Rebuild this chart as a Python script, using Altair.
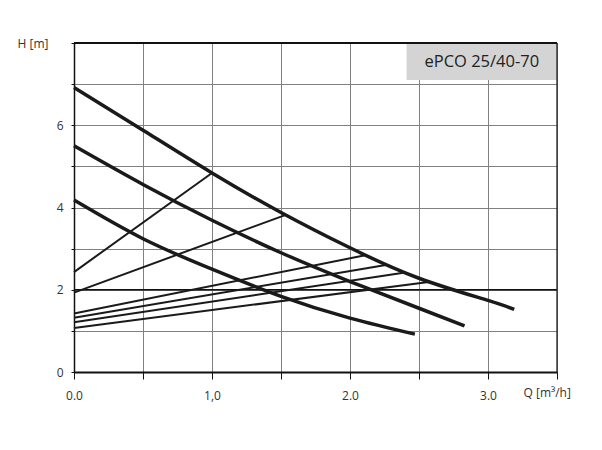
import altair as alt
import pandas as pd

# Pump curves (thick)
q_max = [0, 0.5, 1.0, 1.5, 2.0, 2.5, 3.0, 3.19]
h_max = [6.92, 5.88, 4.84, 3.88, 3.02, 2.28, 1.74, 1.52]
q_mid = [0, 0.5, 1.0, 1.5, 2.0, 2.5, 2.83]
h_mid = [5.50, 4.56, 3.69, 2.90, 2.20, 1.55, 1.12]
q_low = [0, 0.5, 1.0, 1.5, 2.0, 2.47]
h_low = [4.18, 3.24, 2.50, 1.84, 1.31, 0.92]

# Operating lines (thin): from Q=0 to the max curve
op_h_start = [2.43, 1.93, 1.42, 1.32, 1.21, 1.07]
op_q_end = [1.0, 1.525, 2.11, 2.27, 2.40, 2.57]
op_h_end = [4.84, 3.81, 2.84, 2.61, 2.42, 2.19]

x_ticks = [0, 0.5, 1.0, 1.5, 2.0, 2.5, 3.0, 3.5]
x_labels = {0: "0.0", 1: "1,0", 2: "2.0", 3: "3.0"}
y_ticks = [0, 1, 2, 3, 4, 5, 6, 7, 8]
y_labels = {0: "0", 2: "2", 4: "4", 6: "6"}

title_text = "ePCO 25/40-70"
FONT = "Open Sans, sans-serif"

rows = []
for name, qs, hs in [("max", q_max, h_max), ("mid", q_mid, h_mid), ("low", q_low, h_low)]:
    for i, (q, h) in enumerate(zip(qs, hs)):
        rows.append({"curve": name, "q": q, "h": h, "o": i})
pump = pd.DataFrame(rows)

orow = []
for i, (hs, qe, he) in enumerate(zip(op_h_start, op_q_end, op_h_end)):
    orow.append({"line": i, "q": 0.0, "h": hs, "o": 0})
    orow.append({"line": i, "q": qe, "h": he, "o": 1})
ops = pd.DataFrame(orow)

def label_expr(d):
    parts = " : ".join(f"datum.value == {k} ? '{v}'" for k, v in d.items())
    return parts + " : ''"

xscale = alt.Scale(domain=[0, 3.5], nice=False, zero=False)
yscale = alt.Scale(domain=[0, 8], nice=False)

xaxis = alt.Axis(values=x_ticks, labelExpr=label_expr(x_labels), grid=True,
                 gridColor="#808080", gridWidth=1, tickColor="#111", tickSize=7,
                 domainColor="#111", domainWidth=2, labelFont=FONT, labelFontSize=12,
                 labelColor="#333", labelPadding=11, labelFlush=False,
                 title="Q [m³/h]", titleFont=FONT, titleFontSize=12, titleFontWeight="normal",
                 titleColor="#333", titleAngle=0, titleAlign="left", titleBaseline="middle",
                 titleX=449, titleY=20)
yaxis = alt.Axis(values=y_ticks, labelExpr=label_expr(y_labels), grid=True,
                 gridColor="#808080", gridWidth=1, tickColor="#111", tickSize=3,
                 domainColor="#111", domainWidth=1.5, labelFont=FONT, labelFontSize=12,
                 labelColor="#333", labelPadding=8, labelFlush=False,
                 title="H [m]", titleFont=FONT, titleFontSize=12, titleFontWeight="normal",
                 titleColor="#333", titleAngle=0, titleAlign="right", titleBaseline="middle",
                 titleX=-26, titleY=0)

base_axes = alt.Chart(pump).mark_point(opacity=0).encode(
    x=alt.X("q:Q", scale=xscale, axis=xaxis),
    y=alt.Y("h:Q", scale=yscale, axis=yaxis),
)

box = alt.Chart(pd.DataFrame({"a": [0]})).mark_rect(color="#d4d4d4").encode(
    x=alt.datum(2.41), x2=alt.datum(3.5), y=alt.datum(8), y2=alt.datum(7.1)
)
box_text = alt.Chart(pd.DataFrame({"t": [title_text]})).mark_text(
    font=FONT, fontSize=16.5, color="#222", align="center", baseline="middle"
).encode(x=alt.datum(2.955), y=alt.datum(7.55), text="t:N")

rule_df = pd.DataFrame({"a": [0]})
h2 = alt.Chart(rule_df).mark_rule(color="#111", strokeWidth=1.3).encode(
    x=alt.datum(0), x2=alt.datum(3.5), y=alt.datum(2))
top = alt.Chart(rule_df).mark_rule(color="#111", strokeWidth=2).encode(
    x=alt.datum(0), x2=alt.datum(3.5), y=alt.datum(8))
right = alt.Chart(rule_df).mark_rule(color="#222", strokeWidth=1.3).encode(
    x=alt.datum(3.5), y=alt.datum(0), y2=alt.datum(8))

op_lines = alt.Chart(ops).mark_line(color="#1a1a1a", strokeWidth=2).encode(
    x=alt.X("q:Q", scale=xscale), y=alt.Y("h:Q", scale=yscale),
    detail="line:N", order="o:Q")
pump_lines = alt.Chart(pump).mark_line(color="#1a1a1a", strokeWidth=3.5,
                                       interpolate="natural", strokeCap="butt").encode(
    x=alt.X("q:Q", scale=xscale), y=alt.Y("h:Q", scale=yscale),
    detail="curve:N", order="o:Q")

chart = alt.layer(base_axes, box, box_text, h2, right, op_lines, pump_lines, top).properties(
    width=483, height=329,
    padding={"left": 66, "top": 35, "right": 30, "bottom": 50},
    autosize=alt.AutoSizeParams(type="none"),
).configure_view(stroke=None).configure(background="white")

chart.save("out.html", embed_options={"renderer": "svg", "actions": False})
